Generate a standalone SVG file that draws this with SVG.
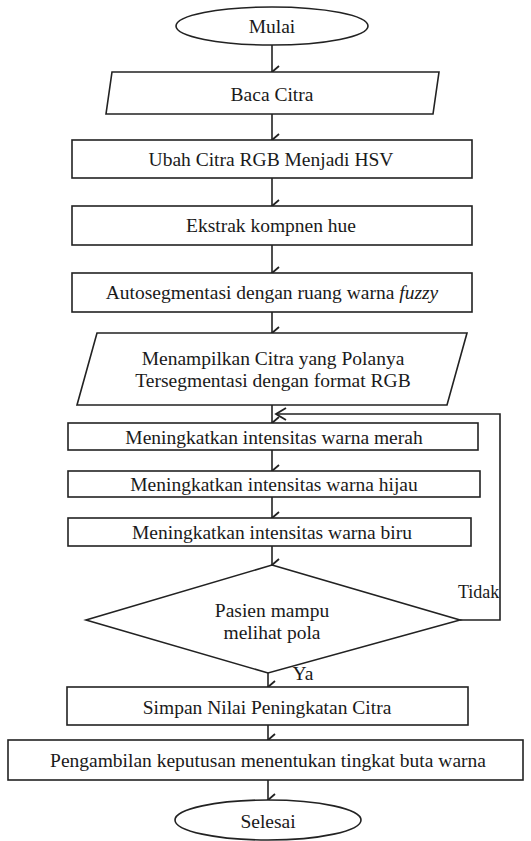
<svg xmlns="http://www.w3.org/2000/svg" width="531" height="841" viewBox="0 0 531 841">
<defs>
<style>
.s{fill:#fff;stroke:#222;stroke-width:1.6}
.t{font-family:'Liberation Serif','Times New Roman',serif;font-size:19.5px;fill:#1a1a1a;text-anchor:middle;dominant-baseline:central}
.c{fill:none;stroke:#222;stroke-width:1.6}
</style>
<marker id="a" markerWidth="14" markerHeight="14" refX="7" refY="12" orient="auto" markerUnits="userSpaceOnUse" viewBox="0 0 14 14">
<path d="M1,5 L7,12 L13,5" fill="none" stroke="#222" stroke-width="1.8"/>
</marker>
</defs>
<rect width="531" height="841" fill="#fff"/>
<g id="connectors">
<line class="c" x1="272" y1="45" x2="272" y2="72" marker-end="url(#a)"/>
<line class="c" x1="272" y1="114" x2="272" y2="140" marker-end="url(#a)"/>
<line class="c" x1="272" y1="178" x2="272" y2="206" marker-end="url(#a)"/>
<line class="c" x1="272" y1="245" x2="272" y2="273" marker-end="url(#a)"/>
<line class="c" x1="272" y1="312" x2="272" y2="333" marker-end="url(#a)"/>
<line class="c" x1="272" y1="405" x2="272" y2="423" marker-end="url(#a)"/>
<line class="c" x1="272" y1="450" x2="272" y2="471" marker-end="url(#a)"/>
<line class="c" x1="272" y1="497" x2="272" y2="518" marker-end="url(#a)"/>
<line class="c" x1="272" y1="546" x2="272" y2="565" marker-end="url(#a)"/>
<line class="c" x1="268" y1="673" x2="268" y2="687" marker-end="url(#a)"/>
<line class="c" x1="268" y1="725" x2="268" y2="740" marker-end="url(#a)"/>
<line class="c" x1="268" y1="780" x2="268" y2="800" marker-end="url(#a)"/>
<polyline class="c" points="460,620 500,620 500,414 276,414"/>
<path d="M286,408 L276,414 L286,420" fill="none" stroke="#222" stroke-width="1.8"/>
<text class="t" x="458" y="592" style="text-anchor:start;font-size:18px">Tidak</text>
<text class="t" x="303" y="673">Ya</text>
</g>
<g id="mulai"><ellipse class="s" cx="272" cy="26" rx="96" ry="19"/><text class="t" x="272" y="26">Mulai</text></g>
<g id="baca"><polygon class="s" points="112,72 439,72 433,114 106,114"/><text class="t" x="272" y="94">Baca Citra</text></g>
<g id="ubah"><rect class="s" x="72" y="140" width="400" height="38"/><text class="t" x="271" y="159">Ubah Citra RGB Menjadi HSV</text></g>
<g id="ekstrak"><rect class="s" x="72" y="206" width="400" height="39"/><text class="t" x="271" y="225">Ekstrak kompnen hue</text></g>
<g id="auto"><rect class="s" x="72" y="273" width="400" height="39"/><text class="t" x="272" y="292">Autosegmentasi dengan ruang warna <tspan font-style="italic">fuzzy</tspan></text></g>
<g id="tampil"><polygon class="s" points="97,333 467,333 447,405 77,405"/><text class="t" x="273" y="358">Menampilkan Citra yang Polanya</text><text class="t" x="273" y="380">Tersegmentasi dengan format RGB</text></g>
<g id="merah"><rect class="s" x="68" y="423" width="410" height="27"/><text class="t" x="274" y="437">Meningkatkan intensitas warna merah</text></g>
<g id="hijau"><rect class="s" x="68" y="471" width="412" height="26"/><text class="t" x="274" y="484">Meningkatkan intensitas warna hijau</text></g>
<g id="biru"><rect class="s" x="68" y="518" width="403" height="28"/><text class="t" x="272" y="532">Meningkatkan intensitas warna biru</text></g>
<g id="pasien"><polygon class="s" points="272,565 460,620 268,673 86,620"/><text class="t" x="272" y="610">Pasien mampu</text><text class="t" x="272" y="632">melihat pola</text></g>
<g id="simpan"><rect class="s" x="67" y="687" width="401" height="38"/><text class="t" x="267" y="707">Simpan Nilai Peningkatan Citra</text></g>
<g id="keputusan"><rect class="s" x="8" y="740" width="515" height="40"/><text class="t" x="268" y="760">Pengambilan keputusan menentukan tingkat buta warna</text></g>
<g id="selesai"><ellipse class="s" cx="268" cy="820" rx="93" ry="20"/><text class="t" x="268" y="821">Selesai</text></g>
</svg>
